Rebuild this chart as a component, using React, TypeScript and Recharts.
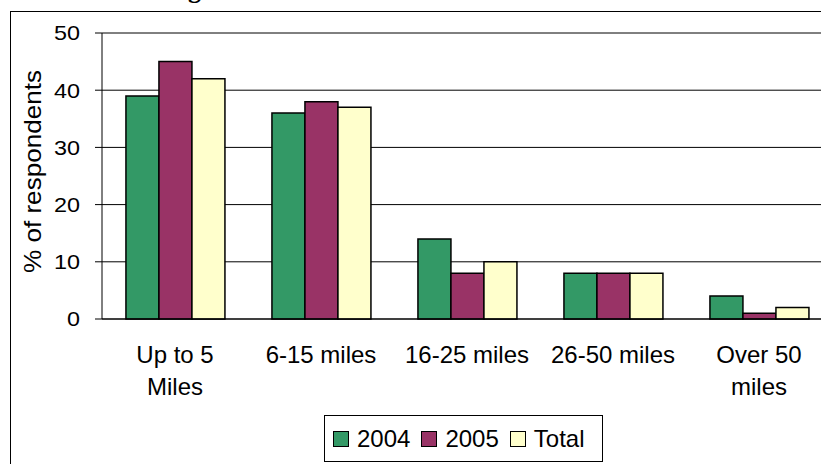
import React from "react";
import {
  Bar,
  BarChart,
  CartesianGrid,
  Legend,
  XAxis,
  YAxis,
} from "recharts";

const categories = [
  "Up to 5\nMiles",
  "6-15 miles",
  "16-25 miles",
  "26-50 miles",
  "Over 50\nmiles",
];
const values2004 = [39, 36, 14, 8, 4];
const values2005 = [45, 38, 8, 8, 1];
const valuesTotal = [42, 37, 10, 8, 2];
const yTicks = [0, 10, 20, 30, 40, 50];
const edgeTicks = [0, 1, 2, 3, 4, 5];

const SERIES = [
  { key: "2004", color: "#339966" },
  { key: "2005", color: "#993366" },
  { key: "Total", color: "#FFFFCC" },
];

const FONT = 'Arial, "Liberation Sans", sans-serif';

const data = categories.map((name, i) => ({
  name,
  "2004": values2004[i],
  "2005": values2005[i],
  Total: valuesTotal[i],
}));

const CategoryTick = ({ x, y, payload }: any) => {
  const lines = String(payload.value).split("\n");
  return (
    <text x={x} y={y} textAnchor="middle" fontSize={24} fontFamily={FONT} fill="#000">
      {lines.map((line, i) => (
        <tspan key={i} x={x} dy={i === 0 ? 44 : 32}>
          {line}
        </tspan>
      ))}
    </text>
  );
};

const ValueTick = ({ x, y, payload }: any) => {
  const s = String(payload.value);
  return (
    <text
      x={x}
      y={y}
      dy="0.355em"
      textAnchor="end"
      fontSize={21}
      fontFamily={FONT}
      fill="#000"
      textLength={13 * s.length}
      lengthAdjust="spacingAndGlyphs"
    >
      {s}
    </text>
  );
};

const AxisTitle = () => (
  <text
    x={41}
    y={171.5}
    transform="rotate(-90 41 171.5)"
    textAnchor="middle"
    fontSize={24}
    fontFamily={FONT}
    fill="#000"
    textLength={203}
    lengthAdjust="spacingAndGlyphs"
  >
    % of respondents
  </text>
);

const LegendBox = () => (
  <div
    style={{
      boxSizing: "border-box",
      width: 279,
      height: 47,
      border: "1px solid #000",
      display: "flex",
      alignItems: "center",
      paddingLeft: 8,
      fontFamily: FONT,
      fontSize: 24,
      color: "#000",
      background: "#fff",
    }}
  >
    {SERIES.map((s) => (
      <div key={s.key} style={{ display: "flex", alignItems: "center", marginRight: 11 }}>
        <span
          style={{
            boxSizing: "border-box",
            width: 16,
            height: 16,
            background: s.color,
            border: "1.5px solid #000",
            marginRight: 8,
          }}
        />
        <span>{s.key}</span>
      </div>
    ))}
  </div>
);

export default function App() {
  return (
    <div
      style={{
        position: "absolute",
        left: 0,
        top: 0,
        width: 821,
        height: 464,
        overflow: "hidden",
        background: "#fff",
      }}
    >
      <div
        style={{
          position: "absolute",
          right: 620,
          top: -25,
          fontFamily: '"Liberation Serif", "Times New Roman", serif',
          fontWeight: "bold",
          fontSize: 26,
          whiteSpace: "nowrap",
        }}
      >
        Distance Travelling
      </div>
      <div
        style={{
          position: "absolute",
          left: 10,
          top: 11,
          width: 900,
          height: 500,
          border: "1px solid #000",
        }}
      />
      <div style={{ position: "absolute", left: 0, top: 0 }}>
        <BarChart
          width={900}
          height={464}
          data={data}
          margin={{ top: 33, right: 68, left: 40, bottom: 2 }}
          barCategoryGap="16.4%"
          barGap={0}
        >
          <CartesianGrid
            horizontal
            vertical={false}
            stroke="#000"
            xAxisId="cat"
          />
          <XAxis
            xAxisId="edges"
            type="number"
            domain={[0, 5]}
            ticks={edgeTicks}
            height={0}
            axisLine={false}
            tickSize={8}
            tickLine={{ stroke: "#000" }}
            tickFormatter={() => ""}
            allowDataOverflow
          />
          <XAxis
            xAxisId="cat"
            dataKey="name"
            height={96}
            interval={0}
            axisLine={{ stroke: "#000" }}
            tickLine={false}
            tickSize={0}
            tickMargin={0}
            tick={<CategoryTick />}
          />
          <YAxis
            width={62}
            domain={[0, 50]}
            ticks={yTicks}
            interval={0}
            axisLine={{ stroke: "#000" }}
            tickLine={{ stroke: "#000" }}
            tickSize={7}
            tickMargin={15}
            tick={<ValueTick />}
            label={{ content: () => <AxisTitle /> }}
          />
          <Legend
            verticalAlign="bottom"
            content={() => <LegendBox />}
            wrapperStyle={{ left: 324, top: 415, bottom: "auto", width: 279 }}
          />
          {SERIES.map((s) => (
            <Bar
              key={s.key}
              dataKey={s.key}
              xAxisId="cat"
              fill={s.color}
              stroke="#000"
              strokeWidth={1.5}
              isAnimationActive={false}
            />
          ))}
        </BarChart>
      </div>
    </div>
  );
}
